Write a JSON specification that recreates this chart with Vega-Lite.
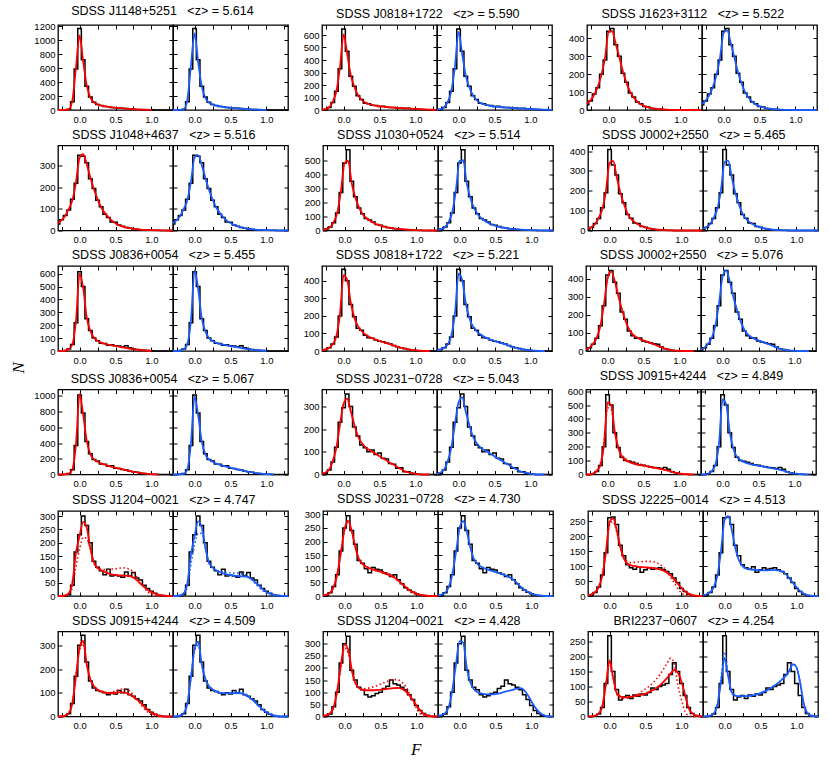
{
"$schema":"https://vega.github.io/schema/vega-lite/v6.json",
"background":"white",
"padding":{"left":10,"top":5,"right":5,"bottom":5},
"datasets":{
"g1":[{"F":-0.3,"N":0,"R":0,"B":0},{"F":-0.25,"N":0,"R":0,"B":0},{"F":-0.2,"N":0,"R":1,"B":1},{"F":-0.15,"N":10,"R":10,"B":10},{"F":-0.1,"N":120,"R":140,"B":150},{"F":-0.05,"N":590,"R":610,"B":640},{"F":0,"N":1170,"R":1070,"B":1100},{"F":0.05,"N":720,"R":700,"B":690},{"F":0.1,"N":340,"R":350,"B":340},{"F":0.15,"N":185,"R":180,"B":175},{"F":0.2,"N":112,"R":110,"B":108},{"F":0.25,"N":78,"R":80,"B":80},{"F":0.3,"N":66,"R":64,"B":64},{"F":0.35,"N":52,"R":54,"B":54},{"F":0.4,"N":48,"R":46,"B":46},{"F":0.45,"N":37,"R":39,"B":39},{"F":0.5,"N":34,"R":33,"B":33},{"F":0.55,"N":27,"R":28,"B":28},{"F":0.6,"N":24,"R":23,"B":23},{"F":0.65,"N":20,"R":19,"B":19},{"F":0.7,"N":15,"R":14,"B":14},{"F":0.75,"N":12,"R":11,"B":11},{"F":0.8,"N":8,"R":8,"B":8},{"F":0.85,"N":6,"R":6,"B":6},{"F":0.9,"N":5,"R":4,"B":4},{"F":0.95,"N":3,"R":3,"B":3},{"F":1,"N":2,"R":2,"B":2},{"F":1.05,"N":1},{"F":1.1,"N":0},{"F":1.15,"N":0},{"F":1.2,"N":0},{"F":1.25,"N":0},{"F":1.3,"N":0}],
"g2":[{"F":-0.3,"N":0,"R":3,"B":3},{"F":-0.25,"N":5,"R":8,"B":8},{"F":-0.2,"N":20,"R":22,"B":22},{"F":-0.15,"N":60,"R":66,"B":66},{"F":-0.1,"N":150,"R":150,"B":155},{"F":-0.05,"N":330,"R":340,"B":350},{"F":0,"N":648,"R":605,"B":625},{"F":0.05,"N":470,"R":450,"B":450},{"F":0.1,"N":270,"R":280,"B":275},{"F":0.15,"N":190,"R":185,"B":180},{"F":0.2,"N":115,"R":120,"B":118},{"F":0.25,"N":85,"R":82,"B":80},{"F":0.3,"N":55,"R":60,"B":58},{"F":0.35,"N":50,"R":48,"B":46},{"F":0.4,"N":38,"R":40,"B":38},{"F":0.45,"N":36,"R":34,"B":32},{"F":0.5,"N":28,"R":30,"B":28},{"F":0.55,"N":30,"R":27,"B":25},{"F":0.6,"N":22,"R":24,"B":22},{"F":0.65,"N":20,"R":21,"B":20},{"F":0.7,"N":20,"R":19,"B":18},{"F":0.75,"N":15,"R":17,"B":16},{"F":0.8,"N":17,"R":15,"B":14},{"F":0.85,"N":12,"R":14,"B":13},{"F":0.9,"N":14,"R":12,"B":11},{"F":0.95,"N":10,"R":11,"B":10},{"F":1,"N":8,"R":9,"B":8},{"F":1.05,"N":6,"R":7,"B":6},{"F":1.1,"N":4,"R":5,"B":5},{"F":1.15,"N":2,"R":4,"B":4},{"F":1.2,"N":1,"R":3,"B":3},{"F":1.25,"N":0,"R":2,"B":2},{"F":1.3,"N":0,"R":1,"B":1}],
"g3":[{"F":-0.3,"N":30,"R":35,"B":33},{"F":-0.25,"N":50,"R":55,"B":52},{"F":-0.2,"N":90,"R":85,"B":82},{"F":-0.15,"N":125,"R":130,"B":128},{"F":-0.1,"N":200,"R":195,"B":192},{"F":-0.05,"N":280,"R":290,"B":290},{"F":0,"N":440,"R":435,"B":430},{"F":0.05,"N":455,"R":440,"B":445},{"F":0.1,"N":365,"R":370,"B":375},{"F":0.15,"N":300,"R":295,"B":295},{"F":0.2,"N":205,"R":215,"B":212},{"F":0.25,"N":155,"R":150,"B":148},{"F":0.3,"N":95,"R":103,"B":100},{"F":0.35,"N":72,"R":70,"B":68},{"F":0.4,"N":45,"R":47,"B":46},{"F":0.45,"N":35,"R":32,"B":31},{"F":0.5,"N":20,"R":22,"B":21},{"F":0.55,"N":17,"R":15,"B":14},{"F":0.6,"N":8,"R":10,"B":10},{"F":0.65,"N":6,"R":7,"B":7},{"F":0.7,"N":4,"R":5,"B":4},{"F":0.75,"N":3,"R":3,"B":3},{"F":0.8,"N":1,"R":2,"B":2},{"F":0.85,"N":1,"R":1,"B":1},{"F":0.9,"N":0,"R":1,"B":1},{"F":0.95,"N":0,"R":0,"B":0},{"F":1,"N":0,"R":0,"B":0},{"F":1.05,"N":0,"R":0,"B":0},{"F":1.1,"N":0,"R":0,"B":0},{"F":1.15,"N":0,"R":0,"B":0},{"F":1.2,"N":0,"R":0,"B":0},{"F":1.25,"N":0,"R":0,"B":0},{"F":1.3,"N":0,"R":0,"B":0}],
"g4":[{"F":-0.3,"N":30,"R":34,"B":34},{"F":-0.25,"N":50,"R":48,"B":48},{"F":-0.2,"N":70,"R":68,"B":68},{"F":-0.15,"N":95,"R":100,"B":100},{"F":-0.1,"N":145,"R":140,"B":142},{"F":-0.05,"N":220,"R":225,"B":228},{"F":0,"N":350,"R":338,"B":340},{"F":0.05,"N":345,"R":355,"B":350},{"F":0.1,"N":315,"R":308,"B":305},{"F":0.15,"N":240,"R":246,"B":245},{"F":0.2,"N":195,"R":192,"B":190},{"F":0.25,"N":140,"R":146,"B":145},{"F":0.3,"N":110,"R":108,"B":108},{"F":0.35,"N":75,"R":82,"B":82},{"F":0.4,"N":60,"R":62,"B":62},{"F":0.45,"N":40,"R":46,"B":46},{"F":0.5,"N":38,"R":34,"B":35},{"F":0.55,"N":25,"R":25,"B":26},{"F":0.6,"N":20,"R":18,"B":19},{"F":0.65,"N":14,"R":14,"B":14},{"F":0.7,"N":10,"R":11,"B":11},{"F":0.75,"N":7,"R":8,"B":8},{"F":0.8,"N":6,"R":6,"B":6},{"F":0.85,"N":4,"R":4,"B":4},{"F":0.9,"N":3,"R":3,"B":3},{"F":0.95,"N":2,"R":2,"B":2},{"F":1,"N":1,"R":2,"B":2},{"F":1.05,"N":1,"R":1,"B":1},{"F":1.1,"N":1,"R":1,"B":1},{"F":1.15,"N":0,"R":1,"B":1},{"F":1.2,"N":0,"R":0,"B":0},{"F":1.25,"N":0,"R":0,"B":0},{"F":1.3,"N":0,"R":0,"B":0}],
"g5":[{"F":-0.3,"N":0,"R":5,"B":5},{"F":-0.25,"N":10,"R":12,"B":12},{"F":-0.2,"N":25,"R":24,"B":25},{"F":-0.15,"N":55,"R":60,"B":62},{"F":-0.1,"N":125,"R":130,"B":135},{"F":-0.05,"N":270,"R":282,"B":290},{"F":0,"N":480,"R":480,"B":495},{"F":0.05,"N":575,"R":495,"B":500},{"F":0.1,"N":350,"R":335,"B":335},{"F":0.15,"N":240,"R":235,"B":232},{"F":0.2,"N":160,"R":165,"B":163},{"F":0.25,"N":120,"R":118,"B":117},{"F":0.3,"N":85,"R":89,"B":88},{"F":0.35,"N":75,"R":71,"B":70},{"F":0.4,"N":60,"R":55,"B":54},{"F":0.45,"N":42,"R":43,"B":42},{"F":0.5,"N":38,"R":34,"B":33},{"F":0.55,"N":28,"R":27,"B":26},{"F":0.6,"N":22,"R":21,"B":20},{"F":0.65,"N":18,"R":17,"B":16},{"F":0.7,"N":12,"R":14,"B":13},{"F":0.75,"N":10,"R":11,"B":10},{"F":0.8,"N":8,"R":9,"B":8},{"F":0.85,"N":5,"R":7,"B":6},{"F":0.9,"N":4,"R":5,"B":5},{"F":0.95,"N":3,"R":3,"B":3},{"F":1,"N":2,"R":2,"B":2},{"F":1.05,"N":1,"R":1,"B":1},{"F":1.1,"N":0,"R":1,"B":1},{"F":1.15,"N":0,"R":0,"B":0},{"F":1.2,"N":0,"R":0,"B":0},{"F":1.25,"N":0,"R":0,"B":0},{"F":1.3,"N":0,"R":0,"B":0}],
"g6":[{"F":-0.3,"N":5,"R":8,"B":8},{"F":-0.25,"N":15,"R":18,"B":18},{"F":-0.2,"N":35,"R":33,"B":33},{"F":-0.15,"N":60,"R":65,"B":65},{"F":-0.1,"N":115,"R":108,"B":110},{"F":-0.05,"N":190,"R":200,"B":205},{"F":0,"N":408,"R":340,"B":345},{"F":0.05,"N":330,"R":350,"B":352},{"F":0.1,"N":280,"R":268,"B":268},{"F":0.15,"N":185,"R":192,"B":190},{"F":0.2,"N":140,"R":133,"B":132},{"F":0.25,"N":80,"R":85,"B":84},{"F":0.3,"N":62,"R":58,"B":58},{"F":0.35,"N":38,"R":42,"B":42},{"F":0.4,"N":35,"R":30,"B":30},{"F":0.45,"N":20,"R":22,"B":22},{"F":0.5,"N":16,"R":15,"B":15},{"F":0.55,"N":10,"R":11,"B":11},{"F":0.6,"N":8,"R":8,"B":8},{"F":0.65,"N":4,"R":5,"B":5},{"F":0.7,"N":3,"R":3,"B":3},{"F":0.75,"N":2,"R":2,"B":2},{"F":0.8,"N":1,"R":1,"B":1},{"F":0.85,"N":1,"R":1,"B":1},{"F":0.9,"N":0,"R":0,"B":0},{"F":0.95,"N":0,"R":0,"B":0},{"F":1,"N":0,"R":0,"B":0},{"F":1.05,"N":0,"R":0,"B":0},{"F":1.1,"N":0,"R":0,"B":0},{"F":1.15,"N":0,"R":0,"B":0},{"F":1.2,"N":0,"R":0,"B":0},{"F":1.25,"N":0,"R":0,"B":0},{"F":1.3,"N":0,"R":0,"B":0}],
"g7":[{"F":-0.3,"N":0,"R":0,"B":0},{"F":-0.25,"N":0,"R":0,"B":0},{"F":-0.2,"N":3,"R":2,"B":2},{"F":-0.15,"N":15,"R":13,"B":13},{"F":-0.1,"N":50,"R":52,"B":55},{"F":-0.05,"N":220,"R":233,"B":240},{"F":0,"N":615,"R":600,"B":625},{"F":0.05,"N":500,"R":490,"B":480},{"F":0.1,"N":250,"R":260,"B":255},{"F":0.15,"N":160,"R":155,"B":152},{"F":0.2,"N":100,"R":104,"B":102},{"F":0.25,"N":80,"R":78,"B":77},{"F":0.3,"N":60,"R":65,"B":64},{"F":0.35,"N":58,"R":57,"B":56},{"F":0.4,"N":45,"R":49,"B":49},{"F":0.45,"N":48,"R":44,"B":43},{"F":0.5,"N":40,"R":39,"B":38},{"F":0.55,"N":38,"R":34,"B":33},{"F":0.6,"N":32,"R":28,"B":28},{"F":0.65,"N":40,"R":23,"B":23},{"F":0.7,"N":25,"R":18,"B":18},{"F":0.75,"N":15,"R":14,"B":14},{"F":0.8,"N":12,"R":10,"B":10},{"F":0.85,"N":8,"R":7,"B":7},{"F":0.9,"N":5,"R":5,"B":5},{"F":0.95,"N":3,"R":2,"B":2},{"F":1,"N":1,"R":0,"B":0},{"F":1.05,"N":0},{"F":1.1,"N":0},{"F":1.15,"N":0},{"F":1.2,"N":0},{"F":1.25,"N":0},{"F":1.3,"N":0}],
"g8":[{"F":-0.3,"N":2,"R":4,"B":4},{"F":-0.25,"N":8,"R":9,"B":9},{"F":-0.2,"N":18,"R":19,"B":19},{"F":-0.15,"N":40,"R":38,"B":38},{"F":-0.1,"N":80,"R":85,"B":88},{"F":-0.05,"N":200,"R":210,"B":215},{"F":0,"N":465,"R":432,"B":440},{"F":0.05,"N":400,"R":405,"B":405},{"F":0.1,"N":265,"R":275,"B":272},{"F":0.15,"N":195,"R":190,"B":188},{"F":0.2,"N":130,"R":142,"B":140},{"F":0.25,"N":118,"R":114,"B":113},{"F":0.3,"N":90,"R":95,"B":95},{"F":0.35,"N":75,"R":82,"B":82},{"F":0.4,"N":72,"R":72,"B":72},{"F":0.45,"N":62,"R":65,"B":64},{"F":0.5,"N":55,"R":57,"B":57},{"F":0.55,"N":52,"R":51,"B":51},{"F":0.6,"N":45,"R":46,"B":45},{"F":0.65,"N":40,"R":38,"B":38},{"F":0.7,"N":32,"R":30,"B":30},{"F":0.75,"N":24,"R":25,"B":25},{"F":0.8,"N":18,"R":19,"B":19},{"F":0.85,"N":14,"R":13,"B":13},{"F":0.9,"N":8,"R":9,"B":9},{"F":0.95,"N":5,"R":6,"B":6},{"F":1,"N":3,"R":4,"B":4},{"F":1.05,"N":2,"R":2,"B":2},{"F":1.1,"N":1,"R":1,"B":1},{"F":1.15,"N":0,"R":0,"B":0},{"F":1.2,"N":0,"R":0,"B":0},{"F":1.25,"N":0},{"F":1.3,"N":0}],
"g9":[{"F":-0.3,"N":5,"R":9,"B":9},{"F":-0.25,"N":18,"R":20,"B":20},{"F":-0.2,"N":38,"R":40,"B":40},{"F":-0.15,"N":70,"R":74,"B":74},{"F":-0.1,"N":140,"R":138,"B":140},{"F":-0.05,"N":250,"R":258,"B":262},{"F":0,"N":420,"R":400,"B":410},{"F":0.05,"N":445,"R":440,"B":445},{"F":0.1,"N":380,"R":387,"B":385},{"F":0.15,"N":320,"R":304,"B":300},{"F":0.2,"N":215,"R":230,"B":228},{"F":0.25,"N":175,"R":166,"B":165},{"F":0.3,"N":110,"R":120,"B":120},{"F":0.35,"N":85,"R":92,"B":92},{"F":0.4,"N":70,"R":77,"B":77},{"F":0.45,"N":72,"R":66,"B":66},{"F":0.5,"N":55,"R":59,"B":59},{"F":0.55,"N":50,"R":52,"B":52},{"F":0.6,"N":45,"R":44,"B":44},{"F":0.65,"N":40,"R":37,"B":37},{"F":0.7,"N":38,"R":28,"B":28},{"F":0.75,"N":22,"R":20,"B":20},{"F":0.8,"N":12,"R":13,"B":13},{"F":0.85,"N":8,"R":7,"B":7},{"F":0.9,"N":4,"R":4,"B":4},{"F":0.95,"N":2,"R":2,"B":2},{"F":1,"N":1,"R":1,"B":1},{"F":1.05,"N":0,"R":0,"B":0},{"F":1.1,"N":0,"R":0,"B":0},{"F":1.15,"N":0,"R":0,"B":0},{"F":1.2,"N":0,"R":0,"B":0},{"F":1.25,"N":0},{"F":1.3,"N":0}],
"g10":[{"F":-0.3,"N":0,"R":0,"B":0},{"F":-0.25,"N":0,"R":0,"B":0},{"F":-0.2,"N":3,"R":2,"B":2},{"F":-0.15,"N":12,"R":9,"B":9},{"F":-0.1,"N":60,"R":64,"B":70},{"F":-0.05,"N":370,"R":385,"B":400},{"F":0,"N":1010,"R":1020,"B":990},{"F":0.05,"N":780,"R":760,"B":750},{"F":0.1,"N":420,"R":428,"B":420},{"F":0.15,"N":265,"R":257,"B":255},{"F":0.2,"N":190,"R":193,"B":192},{"F":0.25,"N":170,"R":163,"B":162},{"F":0.3,"N":135,"R":141,"B":140},{"F":0.35,"N":130,"R":124,"B":123},{"F":0.4,"N":105,"R":111,"B":110},{"F":0.45,"N":110,"R":98,"B":97},{"F":0.5,"N":80,"R":86,"B":86},{"F":0.55,"N":75,"R":77,"B":76},{"F":0.6,"N":62,"R":64,"B":64},{"F":0.65,"N":58,"R":56,"B":55},{"F":0.7,"N":40,"R":43,"B":43},{"F":0.75,"N":35,"R":34,"B":34},{"F":0.8,"N":28,"R":26,"B":26},{"F":0.85,"N":15,"R":17,"B":17},{"F":0.9,"N":12,"R":13,"B":13},{"F":0.95,"N":8,"R":9,"B":9},{"F":1,"N":4,"R":4,"B":4},{"F":1.05,"N":2,"R":2,"B":2},{"F":1.1,"N":0,"R":0,"B":0},{"F":1.15,"N":0},{"F":1.2,"N":0},{"F":1.25,"N":0},{"F":1.3,"N":0}],
"g11":[{"F":-0.3,"N":0,"R":3,"B":3},{"F":-0.25,"N":5,"R":9,"B":9},{"F":-0.2,"N":20,"R":22,"B":22},{"F":-0.15,"N":55,"R":59,"B":60},{"F":-0.1,"N":120,"R":118,"B":120},{"F":-0.05,"N":230,"R":220,"B":222},{"F":0,"N":295,"R":312,"B":318},{"F":0.05,"N":355,"R":335,"B":340},{"F":0.1,"N":300,"R":279,"B":278},{"F":0.15,"N":210,"R":220,"B":218},{"F":0.2,"N":170,"R":169,"B":168},{"F":0.25,"N":130,"R":140,"B":139},{"F":0.3,"N":118,"R":122,"B":121},{"F":0.35,"N":100,"R":110,"B":109},{"F":0.4,"N":108,"R":100,"B":99},{"F":0.45,"N":88,"R":91,"B":90},{"F":0.5,"N":95,"R":81,"B":80},{"F":0.55,"N":72,"R":71,"B":70},{"F":0.6,"N":68,"R":62,"B":61},{"F":0.65,"N":48,"R":51,"B":51},{"F":0.7,"N":45,"R":43,"B":42},{"F":0.75,"N":28,"R":32,"B":32},{"F":0.8,"N":30,"R":24,"B":24},{"F":0.85,"N":12,"R":15,"B":15},{"F":0.9,"N":12,"R":9,"B":9},{"F":0.95,"N":5,"R":6,"B":6},{"F":1,"N":3,"R":3,"B":3},{"F":1.05,"N":1,"R":1,"B":1},{"F":1.1,"N":0,"R":0,"B":0},{"F":1.15,"N":0,"R":0,"B":0},{"F":1.2,"N":0,"R":0,"B":0},{"F":1.25,"N":0},{"F":1.3,"N":0}],
"g12":[{"F":-0.3,"N":0,"R":0,"B":0,"r":0},{"F":-0.25,"N":0,"R":0,"B":0,"r":0},{"F":-0.2,"N":6,"R":7,"B":7,"r":10},{"F":-0.15,"N":22,"R":24,"B":24,"r":30},{"F":-0.1,"N":65,"R":68,"B":70,"r":80},{"F":-0.05,"N":200,"R":213,"B":220,"r":230},{"F":0,"N":575,"R":520,"B":540,"r":480},{"F":0.05,"N":500,"R":500,"B":505,"r":470},{"F":0.1,"N":300,"R":310,"B":305,"r":300},{"F":0.15,"N":195,"R":189,"B":186,"r":195},{"F":0.2,"N":125,"R":128,"B":127,"r":140},{"F":0.25,"N":100,"R":104,"B":103,"r":115},{"F":0.3,"N":95,"R":90,"B":89,"r":100},{"F":0.35,"N":88,"R":80,"B":80,"r":90},{"F":0.4,"N":80,"R":73,"B":73,"r":82},{"F":0.45,"N":70,"R":68,"B":68,"r":75},{"F":0.5,"N":66,"R":63,"B":63,"r":68},{"F":0.55,"N":60,"R":58,"B":58,"r":62},{"F":0.6,"N":55,"R":53,"B":53,"r":56},{"F":0.65,"N":50,"R":48,"B":48,"r":50},{"F":0.7,"N":48,"R":44,"B":44,"r":44},{"F":0.75,"N":44,"R":39,"B":39,"r":38},{"F":0.8,"N":50,"R":34,"B":34,"r":32},{"F":0.85,"N":38,"R":27,"B":27,"r":25},{"F":0.9,"N":20,"R":19,"B":19,"r":17},{"F":0.95,"N":12,"R":12,"B":12,"r":10},{"F":1,"N":6,"R":7,"B":7,"r":5},{"F":1.05,"N":4,"R":5,"B":5,"r":2},{"F":1.1,"N":2,"R":2,"B":2,"r":1},{"F":1.15,"N":0,"R":1,"B":1,"r":0},{"F":1.2,"N":0,"R":0,"B":0,"r":0},{"F":1.25,"N":0},{"F":1.3,"N":0}],
"g13":[{"F":-0.3,"N":0,"R":0,"B":0,"r":0,"b":0},{"F":-0.25,"N":0,"R":0,"B":0,"r":0,"b":0},{"F":-0.2,"N":0,"R":2,"B":2,"r":1,"b":1},{"F":-0.15,"N":5,"R":10,"B":10,"r":8,"b":8},{"F":-0.1,"N":40,"R":50,"B":48,"r":31,"b":35},{"F":-0.05,"N":165,"R":162,"B":155,"r":112,"b":120},{"F":0,"N":230,"R":225,"B":225,"r":175,"b":190},{"F":0.05,"N":300,"R":278,"B":280,"r":220,"b":235},{"F":0.1,"N":265,"R":256,"B":258,"r":215,"b":235},{"F":0.15,"N":200,"R":181,"B":183,"r":175,"b":180},{"F":0.2,"N":130,"R":125,"B":126,"r":125,"b":125},{"F":0.25,"N":108,"R":106,"B":107,"r":104,"b":104},{"F":0.3,"N":95,"R":97,"B":97,"r":100,"b":96},{"F":0.35,"N":80,"R":90,"B":90,"r":99,"b":92},{"F":0.4,"N":100,"R":85,"B":85,"r":100,"b":90},{"F":0.45,"N":75,"R":81,"B":81,"r":101,"b":88},{"F":0.5,"N":78,"R":79,"B":78,"r":102,"b":87},{"F":0.55,"N":75,"R":77,"B":76,"r":104,"b":86},{"F":0.6,"N":70,"R":77,"B":75,"r":106,"b":86},{"F":0.65,"N":90,"R":76,"B":74,"r":104,"b":84},{"F":0.7,"N":75,"R":75,"B":73,"r":100,"b":80},{"F":0.75,"N":88,"R":69,"B":70,"r":90,"b":72},{"F":0.8,"N":68,"R":59,"B":62,"r":69,"b":60},{"F":0.85,"N":60,"R":46,"B":50,"r":48,"b":45},{"F":0.9,"N":40,"R":34,"B":38,"r":31,"b":32},{"F":0.95,"N":28,"R":22,"B":25,"r":15,"b":20},{"F":1,"N":18,"R":15,"B":15,"r":6,"b":10},{"F":1.05,"N":10,"R":9,"B":9,"r":1,"b":4},{"F":1.1,"N":5,"R":5,"B":5,"r":0,"b":1},{"F":1.15,"N":2,"R":2,"B":2,"r":0,"b":0},{"F":1.2,"N":0,"R":1,"B":1,"r":0,"b":0},{"F":1.25,"N":0,"R":0,"B":0,"r":0,"b":0},{"F":1.3,"N":0,"R":0,"B":0,"r":0,"b":0}],
"g14":[{"F":-0.3,"N":0,"R":2,"B":2,"r":2},{"F":-0.25,"N":3,"R":5,"B":5,"r":5},{"F":-0.2,"N":12,"R":12,"B":12,"r":13},{"F":-0.15,"N":35,"R":33,"B":33,"r":35},{"F":-0.1,"N":78,"R":81,"B":80,"r":85},{"F":-0.05,"N":165,"R":160,"B":160,"r":165},{"F":0,"N":250,"R":245,"B":248,"r":245},{"F":0.05,"N":295,"R":276,"B":275,"r":270},{"F":0.1,"N":240,"R":239,"B":238,"r":235},{"F":0.15,"N":190,"R":179,"B":178,"r":178},{"F":0.2,"N":130,"R":136,"B":135,"r":134},{"F":0.25,"N":120,"R":118,"B":117,"r":114},{"F":0.3,"N":100,"R":108,"B":107,"r":105},{"F":0.35,"N":85,"R":102,"B":101,"r":100},{"F":0.4,"N":105,"R":97,"B":96,"r":97},{"F":0.45,"N":98,"R":92,"B":92,"r":94},{"F":0.5,"N":95,"R":89,"B":88,"r":92},{"F":0.55,"N":85,"R":84,"B":84,"r":88},{"F":0.6,"N":80,"R":79,"B":79,"r":84},{"F":0.65,"N":72,"R":73,"B":74,"r":78},{"F":0.7,"N":78,"R":66,"B":68,"r":70},{"F":0.75,"N":60,"R":56,"B":60,"r":58},{"F":0.8,"N":45,"R":45,"B":47,"r":44},{"F":0.85,"N":30,"R":33,"B":34,"r":30},{"F":0.9,"N":22,"R":23,"B":23,"r":19},{"F":0.95,"N":14,"R":15,"B":15,"r":11},{"F":1,"N":8,"R":9,"B":9,"r":6},{"F":1.05,"N":4,"R":5,"B":5,"r":3},{"F":1.1,"N":2,"R":2,"B":2,"r":1},{"F":1.15,"N":1,"R":1,"B":1,"r":0},{"F":1.2,"N":0,"R":0,"B":0,"r":0},{"F":1.25,"N":0,"R":0,"B":0,"r":0},{"F":1.3,"N":0,"R":0,"B":0,"r":0}],
"g15":[{"F":-0.3,"N":0,"R":2,"B":2,"r":2},{"F":-0.25,"N":3,"R":6,"B":6,"r":6},{"F":-0.2,"N":12,"R":13,"B":13,"r":14},{"F":-0.15,"N":30,"R":30,"B":30,"r":33},{"F":-0.1,"N":70,"R":69,"B":68,"r":72},{"F":-0.05,"N":145,"R":147,"B":150,"r":150},{"F":0,"N":262,"R":248,"B":255,"r":240},{"F":0.05,"N":265,"R":260,"B":268,"r":250},{"F":0.1,"N":240,"R":220,"B":222,"r":215},{"F":0.15,"N":170,"R":164,"B":160,"r":165},{"F":0.2,"N":135,"R":125,"B":120,"r":130},{"F":0.25,"N":105,"R":108,"B":100,"r":115},{"F":0.3,"N":95,"R":103,"B":92,"r":112},{"F":0.35,"N":90,"R":100,"B":89,"r":113},{"F":0.4,"N":98,"R":98,"B":88,"r":114},{"F":0.45,"N":80,"R":97,"B":87,"r":115},{"F":0.5,"N":88,"R":96,"B":86,"r":116},{"F":0.55,"N":95,"R":95,"B":86,"r":116},{"F":0.6,"N":90,"R":94,"B":86,"r":115},{"F":0.65,"N":92,"R":92,"B":87,"r":112},{"F":0.7,"N":95,"R":89,"B":87,"r":106},{"F":0.75,"N":88,"R":85,"B":86,"r":96},{"F":0.8,"N":82,"R":78,"B":82,"r":80},{"F":0.85,"N":75,"R":69,"B":74,"r":62},{"F":0.9,"N":60,"R":56,"B":60,"r":45},{"F":0.95,"N":45,"R":41,"B":45,"r":25},{"F":1,"N":25,"R":27,"B":30,"r":10},{"F":1.05,"N":15,"R":16,"B":17,"r":3},{"F":1.1,"N":6,"R":8,"B":8,"r":1},{"F":1.15,"N":2,"R":3,"B":3,"r":0},{"F":1.2,"N":0,"R":1,"B":1,"r":0},{"F":1.25,"N":0,"R":0,"B":0,"r":0},{"F":1.3,"N":0,"R":0,"B":0,"r":0}],
"g16":[{"F":-0.3,"N":0,"R":0,"B":0,"r":0,"b":0},{"F":-0.25,"N":0,"R":1,"B":1,"r":1,"b":1},{"F":-0.2,"N":3,"R":4,"B":4,"r":5,"b":5},{"F":-0.15,"N":12,"R":14,"B":14,"r":16,"b":15},{"F":-0.1,"N":55,"R":57,"B":55,"r":60,"b":58},{"F":-0.05,"N":170,"R":170,"B":165,"r":170,"b":168},{"F":0,"N":300,"R":290,"B":285,"r":280,"b":278},{"F":0.05,"N":342,"R":318,"B":315,"r":305,"b":300},{"F":0.1,"N":230,"R":219,"B":220,"r":218,"b":218},{"F":0.15,"N":150,"R":156,"B":158,"r":158,"b":158},{"F":0.2,"N":120,"R":127,"B":128,"r":128,"b":128},{"F":0.25,"N":110,"R":113,"B":114,"r":112,"b":113},{"F":0.3,"N":105,"R":106,"B":106,"r":104,"b":105},{"F":0.35,"N":100,"R":102,"B":101,"r":101,"b":100},{"F":0.4,"N":92,"R":99,"B":98,"r":101,"b":99},{"F":0.45,"N":100,"R":98,"B":97,"r":103,"b":99},{"F":0.5,"N":95,"R":99,"B":97,"r":107,"b":101},{"F":0.55,"N":110,"R":102,"B":98,"r":112,"b":104},{"F":0.6,"N":100,"R":102,"B":99,"r":116,"b":106},{"F":0.65,"N":115,"R":99,"B":97,"r":115,"b":104},{"F":0.7,"N":92,"R":92,"B":92,"r":106,"b":97},{"F":0.75,"N":85,"R":82,"B":83,"r":90,"b":86},{"F":0.8,"N":75,"R":71,"B":72,"r":72,"b":72},{"F":0.85,"N":65,"R":57,"B":58,"r":52,"b":57},{"F":0.9,"N":50,"R":42,"B":43,"r":33,"b":42},{"F":0.95,"N":30,"R":28,"B":29,"r":18,"b":28},{"F":1,"N":18,"R":17,"B":18,"r":8,"b":17},{"F":1.05,"N":10,"R":10,"B":10,"r":2,"b":9},{"F":1.1,"N":4,"R":4,"B":4,"r":0,"b":4},{"F":1.15,"N":1,"R":1,"B":1,"r":0,"b":1},{"F":1.2,"N":0,"R":0,"B":0,"r":0,"b":0},{"F":1.25,"N":0,"R":0,"B":0,"r":0,"b":0},{"F":1.3,"N":0,"R":0,"B":0,"r":0,"b":0}],
"g17":[{"F":-0.3,"N":0,"R":3,"B":3,"r":2},{"F":-0.25,"N":3,"R":6,"B":6,"r":5},{"F":-0.2,"N":10,"R":14,"B":14,"r":12},{"F":-0.15,"N":40,"R":41,"B":40,"r":38},{"F":-0.1,"N":100,"R":111,"B":110,"r":105},{"F":-0.05,"N":220,"R":214,"B":215,"r":205},{"F":0,"N":300,"R":297,"B":310,"r":282},{"F":0.05,"N":330,"R":276,"B":305,"r":262},{"F":0.1,"N":190,"R":193,"B":200,"r":187},{"F":0.15,"N":150,"R":138,"B":140,"r":140},{"F":0.2,"N":120,"R":117,"B":112,"r":118},{"F":0.25,"N":110,"R":110,"B":100,"r":114},{"F":0.3,"N":90,"R":108,"B":95,"r":115},{"F":0.35,"N":80,"R":108,"B":92,"r":118},{"F":0.4,"N":85,"R":108,"B":91,"r":122},{"F":0.45,"N":95,"R":109,"B":91,"r":127},{"F":0.5,"N":100,"R":110,"B":92,"r":133},{"F":0.55,"N":115,"R":112,"B":95,"r":139},{"F":0.6,"N":125,"R":114,"B":99,"r":145},{"F":0.65,"N":150,"R":116,"B":103,"r":150},{"F":0.7,"N":135,"R":117,"B":107,"r":152},{"F":0.75,"N":130,"R":118,"B":111,"r":150},{"F":0.8,"N":120,"R":114,"B":115,"r":140},{"F":0.85,"N":110,"R":104,"B":117,"r":125},{"F":0.9,"N":90,"R":88,"B":108,"r":97},{"F":0.95,"N":70,"R":68,"B":88,"r":65},{"F":1,"N":45,"R":46,"B":62,"r":35},{"F":1.05,"N":25,"R":26,"B":38,"r":12},{"F":1.1,"N":12,"R":11,"B":20,"r":3},{"F":1.15,"N":5,"R":4,"B":8,"r":0},{"F":1.2,"N":1,"R":1,"B":2,"r":0},{"F":1.25,"N":0,"R":0,"B":0,"r":0},{"F":1.3,"N":0,"R":0,"B":0,"r":0}],
"g18":[{"F":-0.3,"N":0,"R":0,"B":0,"r":0,"b":0},{"F":-0.25,"N":0,"R":1,"B":1,"r":1,"b":1},{"F":-0.2,"N":2,"R":3,"B":3,"r":3,"b":3},{"F":-0.15,"N":8,"R":10,"B":10,"r":10,"b":10},{"F":-0.1,"N":30,"R":35,"B":38,"r":35,"b":40},{"F":-0.05,"N":110,"R":107,"B":115,"r":110,"b":125},{"F":0,"N":270,"R":188,"B":195,"r":180,"b":215},{"F":0.05,"N":150,"R":130,"B":135,"r":125,"b":140},{"F":0.1,"N":90,"R":78,"B":80,"r":75,"b":80},{"F":0.15,"N":55,"R":67,"B":70,"r":62,"b":70},{"F":0.2,"N":65,"R":64,"B":68,"r":60,"b":68},{"F":0.25,"N":70,"R":64,"B":68,"r":62,"b":68},{"F":0.3,"N":60,"R":66,"B":68,"r":65,"b":68},{"F":0.35,"N":72,"R":68,"B":69,"r":70,"b":69},{"F":0.4,"N":68,"R":71,"B":71,"r":76,"b":71},{"F":0.45,"N":75,"R":73,"B":74,"r":84,"b":74},{"F":0.5,"N":72,"R":76,"B":78,"r":92,"b":78},{"F":0.55,"N":80,"R":82,"B":83,"r":101,"b":83},{"F":0.6,"N":95,"R":88,"B":89,"r":112,"b":89},{"F":0.65,"N":90,"R":95,"B":96,"r":125,"b":96},{"F":0.7,"N":100,"R":104,"B":104,"r":140,"b":104},{"F":0.75,"N":105,"R":116,"B":113,"r":158,"b":113},{"F":0.8,"N":110,"R":129,"B":124,"r":178,"b":124},{"F":0.85,"N":140,"R":144,"B":136,"r":195,"b":136},{"F":0.9,"N":180,"R":156,"B":152,"r":175,"b":152},{"F":0.95,"N":150,"R":146,"B":175,"r":105,"b":175},{"F":1,"N":110,"R":118,"B":165,"r":56,"b":165},{"F":1.05,"N":70,"R":73,"B":115,"r":17,"b":115},{"F":1.1,"N":30,"R":28,"B":45,"r":3,"b":45},{"F":1.15,"N":10,"R":11,"B":12,"r":0,"b":12},{"F":1.2,"N":3,"R":3,"B":3,"r":0,"b":3},{"F":1.25,"N":1,"R":1,"B":1,"r":0,"b":1},{"F":1.3,"N":0,"R":0,"B":0,"r":0,"b":0}]
},
"title":{"text":"F","orient":"bottom","anchor":"middle","font":"Liberation Serif","fontStyle":"italic","fontSize":17,"fontWeight":"normal","offset":11},
"vconcat":[{
"title":{"text":"N","orient":"left","anchor":"middle","font":"Liberation Serif","fontStyle":"italic","fontSize":17,"fontWeight":"normal","offset":5},
"spacing":3.5,
"vconcat":[
{"spacing":7,"hconcat":[
{"data":{"name":"g1"},"title":"SDSS J1148+5251\u00a0\u00a0\u00a0<z> = 5.614","spacing":0,"bounds":"flush","hconcat":[
{"width":115,"height":85,"resolve":{"axis":{"x":"independent","y":"independent"}},"layer":[
{"mark":{"type":"line","interpolate":"step","color":"black","strokeWidth":1.5},"encoding":{"x":{"field":"F","type":"quantitative","title":null,"scale":{"domain":[-0.3,1.3],"nice":false,"zero":false},"axis":{"values":[-0.25,0,0.25,0.5,0.75,1,1.25],"labelExpr":"datum.value==0||datum.value==0.5||datum.value==1?format(datum.value,'.1f'):''","labelOverlap":false}},"y":{"field":"N","type":"quantitative","title":null,"scale":{"domain":[0,1220],"nice":false},"axis":{"values":[0,200,400,600,800,1000,1200],"format":"d","labelOverlap":false}}}},
{"mark":{"type":"line","color":"#ff0000"},"encoding":{"x":{"field":"F","type":"quantitative","title":null,"axis":{"orient":"top","labels":false,"values":[-0.25,0,0.25,0.5,0.75,1,1.25]}},"y":{"field":"R","type":"quantitative","title":null,"axis":{"orient":"right","labels":false,"values":[0,200,400,600,800,1000,1200]}}}}]},
{"width":115,"height":85,"resolve":{"axis":{"x":"independent","y":"independent"}},"layer":[
{"mark":{"type":"line","interpolate":"step","color":"black","strokeWidth":1.5},"encoding":{"x":{"field":"F","type":"quantitative","title":null,"scale":{"domain":[-0.3,1.3],"nice":false,"zero":false},"axis":{"values":[-0.25,0,0.25,0.5,0.75,1,1.25],"labelExpr":"datum.value==0||datum.value==0.5||datum.value==1?format(datum.value,'.1f'):''","labelOverlap":false}},"y":{"field":"N","type":"quantitative","title":null,"scale":{"domain":[0,1220],"nice":false},"axis":{"values":[0,200,400,600,800,1000,1200],"labels":false,"minExtent":0,"maxExtent":0}}}},
{"mark":{"type":"line","color":"#1a5cff"},"encoding":{"x":{"field":"F","type":"quantitative","title":null,"axis":{"orient":"top","labels":false,"values":[-0.25,0,0.25,0.5,0.75,1,1.25]}},"y":{"field":"B","type":"quantitative","title":null,"axis":{"orient":"right","labels":false,"values":[0,200,400,600,800,1000,1200]}}}}]}
]},
{"data":{"name":"g2"},"title":"SDSS J0818+1722\u00a0\u00a0\u00a0<z> = 5.590","spacing":0,"bounds":"flush","hconcat":[
{"width":115,"height":85,"resolve":{"axis":{"x":"independent","y":"independent"}},"layer":[
{"mark":{"type":"line","interpolate":"step","color":"black","strokeWidth":1.5},"encoding":{"x":{"field":"F","type":"quantitative","title":null,"scale":{"domain":[-0.3,1.3],"nice":false,"zero":false},"axis":{"values":[-0.25,0,0.25,0.5,0.75,1,1.25],"labelExpr":"datum.value==0||datum.value==0.5||datum.value==1?format(datum.value,'.1f'):''","labelOverlap":false}},"y":{"field":"N","type":"quantitative","title":null,"scale":{"domain":[0,680],"nice":false},"axis":{"values":[0,100,200,300,400,500,600],"format":"d","labelOverlap":false}}}},
{"mark":{"type":"line","color":"#ff0000"},"encoding":{"x":{"field":"F","type":"quantitative","title":null,"axis":{"orient":"top","labels":false,"values":[-0.25,0,0.25,0.5,0.75,1,1.25]}},"y":{"field":"R","type":"quantitative","title":null,"axis":{"orient":"right","labels":false,"values":[0,100,200,300,400,500,600]}}}}]},
{"width":115,"height":85,"resolve":{"axis":{"x":"independent","y":"independent"}},"layer":[
{"mark":{"type":"line","interpolate":"step","color":"black","strokeWidth":1.5},"encoding":{"x":{"field":"F","type":"quantitative","title":null,"scale":{"domain":[-0.3,1.3],"nice":false,"zero":false},"axis":{"values":[-0.25,0,0.25,0.5,0.75,1,1.25],"labelExpr":"datum.value==0||datum.value==0.5||datum.value==1?format(datum.value,'.1f'):''","labelOverlap":false}},"y":{"field":"N","type":"quantitative","title":null,"scale":{"domain":[0,680],"nice":false},"axis":{"values":[0,100,200,300,400,500,600],"labels":false,"minExtent":0,"maxExtent":0}}}},
{"mark":{"type":"line","color":"#1a5cff"},"encoding":{"x":{"field":"F","type":"quantitative","title":null,"axis":{"orient":"top","labels":false,"values":[-0.25,0,0.25,0.5,0.75,1,1.25]}},"y":{"field":"B","type":"quantitative","title":null,"axis":{"orient":"right","labels":false,"values":[0,100,200,300,400,500,600]}}}}]}
]},
{"data":{"name":"g3"},"title":"SDSS J1623+3112\u00a0\u00a0\u00a0<z> = 5.522","spacing":0,"bounds":"flush","hconcat":[
{"width":115,"height":85,"resolve":{"axis":{"x":"independent","y":"independent"}},"layer":[
{"mark":{"type":"line","interpolate":"step","color":"black","strokeWidth":1.5},"encoding":{"x":{"field":"F","type":"quantitative","title":null,"scale":{"domain":[-0.3,1.3],"nice":false,"zero":false},"axis":{"values":[-0.25,0,0.25,0.5,0.75,1,1.25],"labelExpr":"datum.value==0||datum.value==0.5||datum.value==1?format(datum.value,'.1f'):''","labelOverlap":false}},"y":{"field":"N","type":"quantitative","title":null,"scale":{"domain":[0,475],"nice":false},"axis":{"values":[0,100,200,300,400],"format":"d","labelOverlap":false}}}},
{"mark":{"type":"line","color":"#ff0000"},"encoding":{"x":{"field":"F","type":"quantitative","title":null,"axis":{"orient":"top","labels":false,"values":[-0.25,0,0.25,0.5,0.75,1,1.25]}},"y":{"field":"R","type":"quantitative","title":null,"axis":{"orient":"right","labels":false,"values":[0,100,200,300,400]}}}}]},
{"width":115,"height":85,"resolve":{"axis":{"x":"independent","y":"independent"}},"layer":[
{"mark":{"type":"line","interpolate":"step","color":"black","strokeWidth":1.5},"encoding":{"x":{"field":"F","type":"quantitative","title":null,"scale":{"domain":[-0.3,1.3],"nice":false,"zero":false},"axis":{"values":[-0.25,0,0.25,0.5,0.75,1,1.25],"labelExpr":"datum.value==0||datum.value==0.5||datum.value==1?format(datum.value,'.1f'):''","labelOverlap":false}},"y":{"field":"N","type":"quantitative","title":null,"scale":{"domain":[0,475],"nice":false},"axis":{"values":[0,100,200,300,400],"labels":false,"minExtent":0,"maxExtent":0}}}},
{"mark":{"type":"line","color":"#1a5cff"},"encoding":{"x":{"field":"F","type":"quantitative","title":null,"axis":{"orient":"top","labels":false,"values":[-0.25,0,0.25,0.5,0.75,1,1.25]}},"y":{"field":"B","type":"quantitative","title":null,"axis":{"orient":"right","labels":false,"values":[0,100,200,300,400]}}}}]}
]}
]},
{"spacing":7,"hconcat":[
{"data":{"name":"g4"},"title":"SDSS J1048+4637\u00a0\u00a0\u00a0<z> = 5.516","spacing":0,"bounds":"flush","hconcat":[
{"width":115,"height":85,"resolve":{"axis":{"x":"independent","y":"independent"}},"layer":[
{"mark":{"type":"line","interpolate":"step","color":"black","strokeWidth":1.5},"encoding":{"x":{"field":"F","type":"quantitative","title":null,"scale":{"domain":[-0.3,1.3],"nice":false,"zero":false},"axis":{"values":[-0.25,0,0.25,0.5,0.75,1,1.25],"labelExpr":"datum.value==0||datum.value==0.5||datum.value==1?format(datum.value,'.1f'):''","labelOverlap":false}},"y":{"field":"N","type":"quantitative","title":null,"scale":{"domain":[0,395],"nice":false},"axis":{"values":[0,100,200,300],"format":"d","labelOverlap":false}}}},
{"mark":{"type":"line","color":"#ff0000"},"encoding":{"x":{"field":"F","type":"quantitative","title":null,"axis":{"orient":"top","labels":false,"values":[-0.25,0,0.25,0.5,0.75,1,1.25]}},"y":{"field":"R","type":"quantitative","title":null,"axis":{"orient":"right","labels":false,"values":[0,100,200,300]}}}}]},
{"width":115,"height":85,"resolve":{"axis":{"x":"independent","y":"independent"}},"layer":[
{"mark":{"type":"line","interpolate":"step","color":"black","strokeWidth":1.5},"encoding":{"x":{"field":"F","type":"quantitative","title":null,"scale":{"domain":[-0.3,1.3],"nice":false,"zero":false},"axis":{"values":[-0.25,0,0.25,0.5,0.75,1,1.25],"labelExpr":"datum.value==0||datum.value==0.5||datum.value==1?format(datum.value,'.1f'):''","labelOverlap":false}},"y":{"field":"N","type":"quantitative","title":null,"scale":{"domain":[0,395],"nice":false},"axis":{"values":[0,100,200,300],"labels":false,"minExtent":0,"maxExtent":0}}}},
{"mark":{"type":"line","color":"#1a5cff"},"encoding":{"x":{"field":"F","type":"quantitative","title":null,"axis":{"orient":"top","labels":false,"values":[-0.25,0,0.25,0.5,0.75,1,1.25]}},"y":{"field":"B","type":"quantitative","title":null,"axis":{"orient":"right","labels":false,"values":[0,100,200,300]}}}}]}
]},
{"data":{"name":"g5"},"title":"SDSS J1030+0524\u00a0\u00a0\u00a0<z> = 5.514","spacing":0,"bounds":"flush","hconcat":[
{"width":115,"height":85,"resolve":{"axis":{"x":"independent","y":"independent"}},"layer":[
{"mark":{"type":"line","interpolate":"step","color":"black","strokeWidth":1.5},"encoding":{"x":{"field":"F","type":"quantitative","title":null,"scale":{"domain":[-0.3,1.3],"nice":false,"zero":false},"axis":{"values":[-0.25,0,0.25,0.5,0.75,1,1.25],"labelExpr":"datum.value==0||datum.value==0.5||datum.value==1?format(datum.value,'.1f'):''","labelOverlap":false}},"y":{"field":"N","type":"quantitative","title":null,"scale":{"domain":[0,605],"nice":false},"axis":{"values":[0,100,200,300,400,500],"format":"d","labelOverlap":false}}}},
{"mark":{"type":"line","color":"#ff0000"},"encoding":{"x":{"field":"F","type":"quantitative","title":null,"axis":{"orient":"top","labels":false,"values":[-0.25,0,0.25,0.5,0.75,1,1.25]}},"y":{"field":"R","type":"quantitative","title":null,"axis":{"orient":"right","labels":false,"values":[0,100,200,300,400,500]}}}}]},
{"width":115,"height":85,"resolve":{"axis":{"x":"independent","y":"independent"}},"layer":[
{"mark":{"type":"line","interpolate":"step","color":"black","strokeWidth":1.5},"encoding":{"x":{"field":"F","type":"quantitative","title":null,"scale":{"domain":[-0.3,1.3],"nice":false,"zero":false},"axis":{"values":[-0.25,0,0.25,0.5,0.75,1,1.25],"labelExpr":"datum.value==0||datum.value==0.5||datum.value==1?format(datum.value,'.1f'):''","labelOverlap":false}},"y":{"field":"N","type":"quantitative","title":null,"scale":{"domain":[0,605],"nice":false},"axis":{"values":[0,100,200,300,400,500],"labels":false,"minExtent":0,"maxExtent":0}}}},
{"mark":{"type":"line","color":"#1a5cff"},"encoding":{"x":{"field":"F","type":"quantitative","title":null,"axis":{"orient":"top","labels":false,"values":[-0.25,0,0.25,0.5,0.75,1,1.25]}},"y":{"field":"B","type":"quantitative","title":null,"axis":{"orient":"right","labels":false,"values":[0,100,200,300,400,500]}}}}]}
]},
{"data":{"name":"g6"},"title":"SDSS J0002+2550\u00a0\u00a0\u00a0<z> = 5.465","spacing":0,"bounds":"flush","hconcat":[
{"width":115,"height":85,"resolve":{"axis":{"x":"independent","y":"independent"}},"layer":[
{"mark":{"type":"line","interpolate":"step","color":"black","strokeWidth":1.5},"encoding":{"x":{"field":"F","type":"quantitative","title":null,"scale":{"domain":[-0.3,1.3],"nice":false,"zero":false},"axis":{"values":[-0.25,0,0.25,0.5,0.75,1,1.25],"labelExpr":"datum.value==0||datum.value==0.5||datum.value==1?format(datum.value,'.1f'):''","labelOverlap":false}},"y":{"field":"N","type":"quantitative","title":null,"scale":{"domain":[0,428],"nice":false},"axis":{"values":[0,100,200,300,400],"format":"d","labelOverlap":false}}}},
{"mark":{"type":"line","color":"#ff0000"},"encoding":{"x":{"field":"F","type":"quantitative","title":null,"axis":{"orient":"top","labels":false,"values":[-0.25,0,0.25,0.5,0.75,1,1.25]}},"y":{"field":"R","type":"quantitative","title":null,"axis":{"orient":"right","labels":false,"values":[0,100,200,300,400]}}}}]},
{"width":115,"height":85,"resolve":{"axis":{"x":"independent","y":"independent"}},"layer":[
{"mark":{"type":"line","interpolate":"step","color":"black","strokeWidth":1.5},"encoding":{"x":{"field":"F","type":"quantitative","title":null,"scale":{"domain":[-0.3,1.3],"nice":false,"zero":false},"axis":{"values":[-0.25,0,0.25,0.5,0.75,1,1.25],"labelExpr":"datum.value==0||datum.value==0.5||datum.value==1?format(datum.value,'.1f'):''","labelOverlap":false}},"y":{"field":"N","type":"quantitative","title":null,"scale":{"domain":[0,428],"nice":false},"axis":{"values":[0,100,200,300,400],"labels":false,"minExtent":0,"maxExtent":0}}}},
{"mark":{"type":"line","color":"#1a5cff"},"encoding":{"x":{"field":"F","type":"quantitative","title":null,"axis":{"orient":"top","labels":false,"values":[-0.25,0,0.25,0.5,0.75,1,1.25]}},"y":{"field":"B","type":"quantitative","title":null,"axis":{"orient":"right","labels":false,"values":[0,100,200,300,400]}}}}]}
]}
]},
{"spacing":7,"hconcat":[
{"data":{"name":"g7"},"title":"SDSS J0836+0054\u00a0\u00a0\u00a0<z> = 5.455","spacing":0,"bounds":"flush","hconcat":[
{"width":115,"height":85,"resolve":{"axis":{"x":"independent","y":"independent"}},"layer":[
{"mark":{"type":"line","interpolate":"step","color":"black","strokeWidth":1.5},"encoding":{"x":{"field":"F","type":"quantitative","title":null,"scale":{"domain":[-0.3,1.3],"nice":false,"zero":false},"axis":{"values":[-0.25,0,0.25,0.5,0.75,1,1.25],"labelExpr":"datum.value==0||datum.value==0.5||datum.value==1?format(datum.value,'.1f'):''","labelOverlap":false}},"y":{"field":"N","type":"quantitative","title":null,"scale":{"domain":[0,660],"nice":false},"axis":{"values":[0,100,200,300,400,500,600],"format":"d","labelOverlap":false}}}},
{"mark":{"type":"line","color":"#ff0000"},"encoding":{"x":{"field":"F","type":"quantitative","title":null,"axis":{"orient":"top","labels":false,"values":[-0.25,0,0.25,0.5,0.75,1,1.25]}},"y":{"field":"R","type":"quantitative","title":null,"axis":{"orient":"right","labels":false,"values":[0,100,200,300,400,500,600]}}}}]},
{"width":115,"height":85,"resolve":{"axis":{"x":"independent","y":"independent"}},"layer":[
{"mark":{"type":"line","interpolate":"step","color":"black","strokeWidth":1.5},"encoding":{"x":{"field":"F","type":"quantitative","title":null,"scale":{"domain":[-0.3,1.3],"nice":false,"zero":false},"axis":{"values":[-0.25,0,0.25,0.5,0.75,1,1.25],"labelExpr":"datum.value==0||datum.value==0.5||datum.value==1?format(datum.value,'.1f'):''","labelOverlap":false}},"y":{"field":"N","type":"quantitative","title":null,"scale":{"domain":[0,660],"nice":false},"axis":{"values":[0,100,200,300,400,500,600],"labels":false,"minExtent":0,"maxExtent":0}}}},
{"mark":{"type":"line","color":"#1a5cff"},"encoding":{"x":{"field":"F","type":"quantitative","title":null,"axis":{"orient":"top","labels":false,"values":[-0.25,0,0.25,0.5,0.75,1,1.25]}},"y":{"field":"B","type":"quantitative","title":null,"axis":{"orient":"right","labels":false,"values":[0,100,200,300,400,500,600]}}}}]}
]},
{"data":{"name":"g8"},"title":"SDSS J0818+1722\u00a0\u00a0\u00a0<z> = 5.221","spacing":0,"bounds":"flush","hconcat":[
{"width":115,"height":85,"resolve":{"axis":{"x":"independent","y":"independent"}},"layer":[
{"mark":{"type":"line","interpolate":"step","color":"black","strokeWidth":1.5},"encoding":{"x":{"field":"F","type":"quantitative","title":null,"scale":{"domain":[-0.3,1.3],"nice":false,"zero":false},"axis":{"values":[-0.25,0,0.25,0.5,0.75,1,1.25],"labelExpr":"datum.value==0||datum.value==0.5||datum.value==1?format(datum.value,'.1f'):''","labelOverlap":false}},"y":{"field":"N","type":"quantitative","title":null,"scale":{"domain":[0,484],"nice":false},"axis":{"values":[0,100,200,300,400],"format":"d","labelOverlap":false}}}},
{"mark":{"type":"line","color":"#ff0000"},"encoding":{"x":{"field":"F","type":"quantitative","title":null,"axis":{"orient":"top","labels":false,"values":[-0.25,0,0.25,0.5,0.75,1,1.25]}},"y":{"field":"R","type":"quantitative","title":null,"axis":{"orient":"right","labels":false,"values":[0,100,200,300,400]}}}}]},
{"width":115,"height":85,"resolve":{"axis":{"x":"independent","y":"independent"}},"layer":[
{"mark":{"type":"line","interpolate":"step","color":"black","strokeWidth":1.5},"encoding":{"x":{"field":"F","type":"quantitative","title":null,"scale":{"domain":[-0.3,1.3],"nice":false,"zero":false},"axis":{"values":[-0.25,0,0.25,0.5,0.75,1,1.25],"labelExpr":"datum.value==0||datum.value==0.5||datum.value==1?format(datum.value,'.1f'):''","labelOverlap":false}},"y":{"field":"N","type":"quantitative","title":null,"scale":{"domain":[0,484],"nice":false},"axis":{"values":[0,100,200,300,400],"labels":false,"minExtent":0,"maxExtent":0}}}},
{"mark":{"type":"line","color":"#1a5cff"},"encoding":{"x":{"field":"F","type":"quantitative","title":null,"axis":{"orient":"top","labels":false,"values":[-0.25,0,0.25,0.5,0.75,1,1.25]}},"y":{"field":"B","type":"quantitative","title":null,"axis":{"orient":"right","labels":false,"values":[0,100,200,300,400]}}}}]}
]},
{"data":{"name":"g9"},"title":"SDSS J0002+2550\u00a0\u00a0\u00a0<z> = 5.076","spacing":0,"bounds":"flush","hconcat":[
{"width":115,"height":85,"resolve":{"axis":{"x":"independent","y":"independent"}},"layer":[
{"mark":{"type":"line","interpolate":"step","color":"black","strokeWidth":1.5},"encoding":{"x":{"field":"F","type":"quantitative","title":null,"scale":{"domain":[-0.3,1.3],"nice":false,"zero":false},"axis":{"values":[-0.25,0,0.25,0.5,0.75,1,1.25],"labelExpr":"datum.value==0||datum.value==0.5||datum.value==1?format(datum.value,'.1f'):''","labelOverlap":false}},"y":{"field":"N","type":"quantitative","title":null,"scale":{"domain":[0,470],"nice":false},"axis":{"values":[0,100,200,300,400],"format":"d","labelOverlap":false}}}},
{"mark":{"type":"line","color":"#ff0000"},"encoding":{"x":{"field":"F","type":"quantitative","title":null,"axis":{"orient":"top","labels":false,"values":[-0.25,0,0.25,0.5,0.75,1,1.25]}},"y":{"field":"R","type":"quantitative","title":null,"axis":{"orient":"right","labels":false,"values":[0,100,200,300,400]}}}}]},
{"width":115,"height":85,"resolve":{"axis":{"x":"independent","y":"independent"}},"layer":[
{"mark":{"type":"line","interpolate":"step","color":"black","strokeWidth":1.5},"encoding":{"x":{"field":"F","type":"quantitative","title":null,"scale":{"domain":[-0.3,1.3],"nice":false,"zero":false},"axis":{"values":[-0.25,0,0.25,0.5,0.75,1,1.25],"labelExpr":"datum.value==0||datum.value==0.5||datum.value==1?format(datum.value,'.1f'):''","labelOverlap":false}},"y":{"field":"N","type":"quantitative","title":null,"scale":{"domain":[0,470],"nice":false},"axis":{"values":[0,100,200,300,400],"labels":false,"minExtent":0,"maxExtent":0}}}},
{"mark":{"type":"line","color":"#1a5cff"},"encoding":{"x":{"field":"F","type":"quantitative","title":null,"axis":{"orient":"top","labels":false,"values":[-0.25,0,0.25,0.5,0.75,1,1.25]}},"y":{"field":"B","type":"quantitative","title":null,"axis":{"orient":"right","labels":false,"values":[0,100,200,300,400]}}}}]}
]}
]},
{"spacing":7,"hconcat":[
{"data":{"name":"g10"},"title":"SDSS J0836+0054\u00a0\u00a0\u00a0<z> = 5.067","spacing":0,"bounds":"flush","hconcat":[
{"width":115,"height":85,"resolve":{"axis":{"x":"independent","y":"independent"}},"layer":[
{"mark":{"type":"line","interpolate":"step","color":"black","strokeWidth":1.5},"encoding":{"x":{"field":"F","type":"quantitative","title":null,"scale":{"domain":[-0.3,1.3],"nice":false,"zero":false},"axis":{"values":[-0.25,0,0.25,0.5,0.75,1,1.25],"labelExpr":"datum.value==0||datum.value==0.5||datum.value==1?format(datum.value,'.1f'):''","labelOverlap":false}},"y":{"field":"N","type":"quantitative","title":null,"scale":{"domain":[0,1080],"nice":false},"axis":{"values":[0,200,400,600,800,1000],"format":"d","labelOverlap":false}}}},
{"mark":{"type":"line","color":"#ff0000"},"encoding":{"x":{"field":"F","type":"quantitative","title":null,"axis":{"orient":"top","labels":false,"values":[-0.25,0,0.25,0.5,0.75,1,1.25]}},"y":{"field":"R","type":"quantitative","title":null,"axis":{"orient":"right","labels":false,"values":[0,200,400,600,800,1000]}}}}]},
{"width":115,"height":85,"resolve":{"axis":{"x":"independent","y":"independent"}},"layer":[
{"mark":{"type":"line","interpolate":"step","color":"black","strokeWidth":1.5},"encoding":{"x":{"field":"F","type":"quantitative","title":null,"scale":{"domain":[-0.3,1.3],"nice":false,"zero":false},"axis":{"values":[-0.25,0,0.25,0.5,0.75,1,1.25],"labelExpr":"datum.value==0||datum.value==0.5||datum.value==1?format(datum.value,'.1f'):''","labelOverlap":false}},"y":{"field":"N","type":"quantitative","title":null,"scale":{"domain":[0,1080],"nice":false},"axis":{"values":[0,200,400,600,800,1000],"labels":false,"minExtent":0,"maxExtent":0}}}},
{"mark":{"type":"line","color":"#1a5cff"},"encoding":{"x":{"field":"F","type":"quantitative","title":null,"axis":{"orient":"top","labels":false,"values":[-0.25,0,0.25,0.5,0.75,1,1.25]}},"y":{"field":"B","type":"quantitative","title":null,"axis":{"orient":"right","labels":false,"values":[0,200,400,600,800,1000]}}}}]}
]},
{"data":{"name":"g11"},"title":"SDSS J0231−0728\u00a0\u00a0\u00a0<z> = 5.043","spacing":0,"bounds":"flush","hconcat":[
{"width":115,"height":85,"resolve":{"axis":{"x":"independent","y":"independent"}},"layer":[
{"mark":{"type":"line","interpolate":"step","color":"black","strokeWidth":1.5},"encoding":{"x":{"field":"F","type":"quantitative","title":null,"scale":{"domain":[-0.3,1.3],"nice":false,"zero":false},"axis":{"values":[-0.25,0,0.25,0.5,0.75,1,1.25],"labelExpr":"datum.value==0||datum.value==0.5||datum.value==1?format(datum.value,'.1f'):''","labelOverlap":false}},"y":{"field":"N","type":"quantitative","title":null,"scale":{"domain":[0,375],"nice":false},"axis":{"values":[0,100,200,300],"format":"d","labelOverlap":false}}}},
{"mark":{"type":"line","color":"#ff0000"},"encoding":{"x":{"field":"F","type":"quantitative","title":null,"axis":{"orient":"top","labels":false,"values":[-0.25,0,0.25,0.5,0.75,1,1.25]}},"y":{"field":"R","type":"quantitative","title":null,"axis":{"orient":"right","labels":false,"values":[0,100,200,300]}}}}]},
{"width":115,"height":85,"resolve":{"axis":{"x":"independent","y":"independent"}},"layer":[
{"mark":{"type":"line","interpolate":"step","color":"black","strokeWidth":1.5},"encoding":{"x":{"field":"F","type":"quantitative","title":null,"scale":{"domain":[-0.3,1.3],"nice":false,"zero":false},"axis":{"values":[-0.25,0,0.25,0.5,0.75,1,1.25],"labelExpr":"datum.value==0||datum.value==0.5||datum.value==1?format(datum.value,'.1f'):''","labelOverlap":false}},"y":{"field":"N","type":"quantitative","title":null,"scale":{"domain":[0,375],"nice":false},"axis":{"values":[0,100,200,300],"labels":false,"minExtent":0,"maxExtent":0}}}},
{"mark":{"type":"line","color":"#1a5cff"},"encoding":{"x":{"field":"F","type":"quantitative","title":null,"axis":{"orient":"top","labels":false,"values":[-0.25,0,0.25,0.5,0.75,1,1.25]}},"y":{"field":"B","type":"quantitative","title":null,"axis":{"orient":"right","labels":false,"values":[0,100,200,300]}}}}]}
]},
{"data":{"name":"g12"},"title":"SDSS J0915+4244\u00a0\u00a0\u00a0<z> = 4.849","spacing":0,"bounds":"flush","hconcat":[
{"width":115,"height":85,"resolve":{"axis":{"x":"independent","y":"independent"}},"layer":[
{"mark":{"type":"line","interpolate":"step","color":"black","strokeWidth":1.5},"encoding":{"x":{"field":"F","type":"quantitative","title":null,"scale":{"domain":[-0.3,1.3],"nice":false,"zero":false},"axis":{"values":[-0.25,0,0.25,0.5,0.75,1,1.25],"labelExpr":"datum.value==0||datum.value==0.5||datum.value==1?format(datum.value,'.1f'):''","labelOverlap":false}},"y":{"field":"N","type":"quantitative","title":null,"scale":{"domain":[0,612],"nice":false},"axis":{"values":[0,100,200,300,400,500,600],"format":"d","labelOverlap":false}}}},
{"mark":{"type":"line","color":"#ff0000","strokeWidth":1.6,"strokeDash":[1.5,2.5]},"encoding":{"x":{"field":"F","type":"quantitative","axis":null},"y":{"field":"r","type":"quantitative","axis":null}}},
{"mark":{"type":"line","color":"#ff0000"},"encoding":{"x":{"field":"F","type":"quantitative","title":null,"axis":{"orient":"top","labels":false,"values":[-0.25,0,0.25,0.5,0.75,1,1.25]}},"y":{"field":"R","type":"quantitative","title":null,"axis":{"orient":"right","labels":false,"values":[0,100,200,300,400,500,600]}}}}]},
{"width":115,"height":85,"resolve":{"axis":{"x":"independent","y":"independent"}},"layer":[
{"mark":{"type":"line","interpolate":"step","color":"black","strokeWidth":1.5},"encoding":{"x":{"field":"F","type":"quantitative","title":null,"scale":{"domain":[-0.3,1.3],"nice":false,"zero":false},"axis":{"values":[-0.25,0,0.25,0.5,0.75,1,1.25],"labelExpr":"datum.value==0||datum.value==0.5||datum.value==1?format(datum.value,'.1f'):''","labelOverlap":false}},"y":{"field":"N","type":"quantitative","title":null,"scale":{"domain":[0,612],"nice":false},"axis":{"values":[0,100,200,300,400,500,600],"labels":false,"minExtent":0,"maxExtent":0}}}},
{"mark":{"type":"line","color":"#1a5cff"},"encoding":{"x":{"field":"F","type":"quantitative","title":null,"axis":{"orient":"top","labels":false,"values":[-0.25,0,0.25,0.5,0.75,1,1.25]}},"y":{"field":"B","type":"quantitative","title":null,"axis":{"orient":"right","labels":false,"values":[0,100,200,300,400,500,600]}}}}]}
]}
]},
{"spacing":7,"hconcat":[
{"data":{"name":"g13"},"title":"SDSS J1204−0021\u00a0\u00a0\u00a0<z> = 4.747","spacing":0,"bounds":"flush","hconcat":[
{"width":115,"height":85,"resolve":{"axis":{"x":"independent","y":"independent"}},"layer":[
{"mark":{"type":"line","interpolate":"step","color":"black","strokeWidth":1.5},"encoding":{"x":{"field":"F","type":"quantitative","title":null,"scale":{"domain":[-0.3,1.3],"nice":false,"zero":false},"axis":{"values":[-0.25,0,0.25,0.5,0.75,1,1.25],"labelExpr":"datum.value==0||datum.value==0.5||datum.value==1?format(datum.value,'.1f'):''","labelOverlap":false}},"y":{"field":"N","type":"quantitative","title":null,"scale":{"domain":[0,319],"nice":false},"axis":{"values":[0,50,100,150,200,250,300],"format":"d","labelOverlap":false}}}},
{"mark":{"type":"line","color":"#ff0000","strokeWidth":1.6,"strokeDash":[1.5,2.5]},"encoding":{"x":{"field":"F","type":"quantitative","axis":null},"y":{"field":"r","type":"quantitative","axis":null}}},
{"mark":{"type":"line","color":"#ff0000"},"encoding":{"x":{"field":"F","type":"quantitative","title":null,"axis":{"orient":"top","labels":false,"values":[-0.25,0,0.25,0.5,0.75,1,1.25]}},"y":{"field":"R","type":"quantitative","title":null,"axis":{"orient":"right","labels":false,"values":[0,50,100,150,200,250,300]}}}}]},
{"width":115,"height":85,"resolve":{"axis":{"x":"independent","y":"independent"}},"layer":[
{"mark":{"type":"line","interpolate":"step","color":"black","strokeWidth":1.5},"encoding":{"x":{"field":"F","type":"quantitative","title":null,"scale":{"domain":[-0.3,1.3],"nice":false,"zero":false},"axis":{"values":[-0.25,0,0.25,0.5,0.75,1,1.25],"labelExpr":"datum.value==0||datum.value==0.5||datum.value==1?format(datum.value,'.1f'):''","labelOverlap":false}},"y":{"field":"N","type":"quantitative","title":null,"scale":{"domain":[0,319],"nice":false},"axis":{"values":[0,50,100,150,200,250,300],"labels":false,"minExtent":0,"maxExtent":0}}}},
{"mark":{"type":"line","color":"#1a5cff","strokeWidth":1.6,"strokeDash":[1.5,2.5]},"encoding":{"x":{"field":"F","type":"quantitative","axis":null},"y":{"field":"b","type":"quantitative","axis":null}}},
{"mark":{"type":"line","color":"#1a5cff"},"encoding":{"x":{"field":"F","type":"quantitative","title":null,"axis":{"orient":"top","labels":false,"values":[-0.25,0,0.25,0.5,0.75,1,1.25]}},"y":{"field":"B","type":"quantitative","title":null,"axis":{"orient":"right","labels":false,"values":[0,50,100,150,200,250,300]}}}}]}
]},
{"data":{"name":"g14"},"title":"SDSS J0231−0728\u00a0\u00a0\u00a0<z> = 4.730","spacing":0,"bounds":"flush","hconcat":[
{"width":115,"height":85,"resolve":{"axis":{"x":"independent","y":"independent"}},"layer":[
{"mark":{"type":"line","interpolate":"step","color":"black","strokeWidth":1.5},"encoding":{"x":{"field":"F","type":"quantitative","title":null,"scale":{"domain":[-0.3,1.3],"nice":false,"zero":false},"axis":{"values":[-0.25,0,0.25,0.5,0.75,1,1.25],"labelExpr":"datum.value==0||datum.value==0.5||datum.value==1?format(datum.value,'.1f'):''","labelOverlap":false}},"y":{"field":"N","type":"quantitative","title":null,"scale":{"domain":[0,312],"nice":false},"axis":{"values":[0,50,100,150,200,250,300],"format":"d","labelOverlap":false}}}},
{"mark":{"type":"line","color":"#ff0000","strokeWidth":1.6,"strokeDash":[1.5,2.5]},"encoding":{"x":{"field":"F","type":"quantitative","axis":null},"y":{"field":"r","type":"quantitative","axis":null}}},
{"mark":{"type":"line","color":"#ff0000"},"encoding":{"x":{"field":"F","type":"quantitative","title":null,"axis":{"orient":"top","labels":false,"values":[-0.25,0,0.25,0.5,0.75,1,1.25]}},"y":{"field":"R","type":"quantitative","title":null,"axis":{"orient":"right","labels":false,"values":[0,50,100,150,200,250,300]}}}}]},
{"width":115,"height":85,"resolve":{"axis":{"x":"independent","y":"independent"}},"layer":[
{"mark":{"type":"line","interpolate":"step","color":"black","strokeWidth":1.5},"encoding":{"x":{"field":"F","type":"quantitative","title":null,"scale":{"domain":[-0.3,1.3],"nice":false,"zero":false},"axis":{"values":[-0.25,0,0.25,0.5,0.75,1,1.25],"labelExpr":"datum.value==0||datum.value==0.5||datum.value==1?format(datum.value,'.1f'):''","labelOverlap":false}},"y":{"field":"N","type":"quantitative","title":null,"scale":{"domain":[0,312],"nice":false},"axis":{"values":[0,50,100,150,200,250,300],"labels":false,"minExtent":0,"maxExtent":0}}}},
{"mark":{"type":"line","color":"#1a5cff"},"encoding":{"x":{"field":"F","type":"quantitative","title":null,"axis":{"orient":"top","labels":false,"values":[-0.25,0,0.25,0.5,0.75,1,1.25]}},"y":{"field":"B","type":"quantitative","title":null,"axis":{"orient":"right","labels":false,"values":[0,50,100,150,200,250,300]}}}}]}
]},
{"data":{"name":"g15"},"title":"SDSS J2225−0014\u00a0\u00a0\u00a0<z> = 4.513","spacing":0,"bounds":"flush","hconcat":[
{"width":115,"height":85,"resolve":{"axis":{"x":"independent","y":"independent"}},"layer":[
{"mark":{"type":"line","interpolate":"step","color":"black","strokeWidth":1.5},"encoding":{"x":{"field":"F","type":"quantitative","title":null,"scale":{"domain":[-0.3,1.3],"nice":false,"zero":false},"axis":{"values":[-0.25,0,0.25,0.5,0.75,1,1.25],"labelExpr":"datum.value==0||datum.value==0.5||datum.value==1?format(datum.value,'.1f'):''","labelOverlap":false}},"y":{"field":"N","type":"quantitative","title":null,"scale":{"domain":[0,285],"nice":false},"axis":{"values":[0,50,100,150,200,250],"format":"d","labelOverlap":false}}}},
{"mark":{"type":"line","color":"#ff0000","strokeWidth":1.6,"strokeDash":[1.5,2.5]},"encoding":{"x":{"field":"F","type":"quantitative","axis":null},"y":{"field":"r","type":"quantitative","axis":null}}},
{"mark":{"type":"line","color":"#ff0000"},"encoding":{"x":{"field":"F","type":"quantitative","title":null,"axis":{"orient":"top","labels":false,"values":[-0.25,0,0.25,0.5,0.75,1,1.25]}},"y":{"field":"R","type":"quantitative","title":null,"axis":{"orient":"right","labels":false,"values":[0,50,100,150,200,250]}}}}]},
{"width":115,"height":85,"resolve":{"axis":{"x":"independent","y":"independent"}},"layer":[
{"mark":{"type":"line","interpolate":"step","color":"black","strokeWidth":1.5},"encoding":{"x":{"field":"F","type":"quantitative","title":null,"scale":{"domain":[-0.3,1.3],"nice":false,"zero":false},"axis":{"values":[-0.25,0,0.25,0.5,0.75,1,1.25],"labelExpr":"datum.value==0||datum.value==0.5||datum.value==1?format(datum.value,'.1f'):''","labelOverlap":false}},"y":{"field":"N","type":"quantitative","title":null,"scale":{"domain":[0,285],"nice":false},"axis":{"values":[0,50,100,150,200,250],"labels":false,"minExtent":0,"maxExtent":0}}}},
{"mark":{"type":"line","color":"#1a5cff"},"encoding":{"x":{"field":"F","type":"quantitative","title":null,"axis":{"orient":"top","labels":false,"values":[-0.25,0,0.25,0.5,0.75,1,1.25]}},"y":{"field":"B","type":"quantitative","title":null,"axis":{"orient":"right","labels":false,"values":[0,50,100,150,200,250]}}}}]}
]}
]},
{"spacing":7,"hconcat":[
{"data":{"name":"g16"},"title":"SDSS J0915+4244\u00a0\u00a0\u00a0<z> = 4.509","spacing":0,"bounds":"flush","hconcat":[
{"width":115,"height":85,"resolve":{"axis":{"x":"independent","y":"independent"}},"layer":[
{"mark":{"type":"line","interpolate":"step","color":"black","strokeWidth":1.5},"encoding":{"x":{"field":"F","type":"quantitative","title":null,"scale":{"domain":[-0.3,1.3],"nice":false,"zero":false},"axis":{"values":[-0.25,0,0.25,0.5,0.75,1,1.25],"labelExpr":"datum.value==0||datum.value==0.5||datum.value==1?format(datum.value,'.1f'):''","labelOverlap":false}},"y":{"field":"N","type":"quantitative","title":null,"scale":{"domain":[0,358],"nice":false},"axis":{"values":[0,100,200,300],"format":"d","labelOverlap":false}}}},
{"mark":{"type":"line","color":"#ff0000","strokeWidth":1.6,"strokeDash":[1.5,2.5]},"encoding":{"x":{"field":"F","type":"quantitative","axis":null},"y":{"field":"r","type":"quantitative","axis":null}}},
{"mark":{"type":"line","color":"#ff0000"},"encoding":{"x":{"field":"F","type":"quantitative","title":null,"axis":{"orient":"top","labels":false,"values":[-0.25,0,0.25,0.5,0.75,1,1.25]}},"y":{"field":"R","type":"quantitative","title":null,"axis":{"orient":"right","labels":false,"values":[0,100,200,300]}}}}]},
{"width":115,"height":85,"resolve":{"axis":{"x":"independent","y":"independent"}},"layer":[
{"mark":{"type":"line","interpolate":"step","color":"black","strokeWidth":1.5},"encoding":{"x":{"field":"F","type":"quantitative","title":null,"scale":{"domain":[-0.3,1.3],"nice":false,"zero":false},"axis":{"values":[-0.25,0,0.25,0.5,0.75,1,1.25],"labelExpr":"datum.value==0||datum.value==0.5||datum.value==1?format(datum.value,'.1f'):''","labelOverlap":false}},"y":{"field":"N","type":"quantitative","title":null,"scale":{"domain":[0,358],"nice":false},"axis":{"values":[0,100,200,300],"labels":false,"minExtent":0,"maxExtent":0}}}},
{"mark":{"type":"line","color":"#1a5cff","strokeWidth":1.6,"strokeDash":[1.5,2.5]},"encoding":{"x":{"field":"F","type":"quantitative","axis":null},"y":{"field":"b","type":"quantitative","axis":null}}},
{"mark":{"type":"line","color":"#1a5cff"},"encoding":{"x":{"field":"F","type":"quantitative","title":null,"axis":{"orient":"top","labels":false,"values":[-0.25,0,0.25,0.5,0.75,1,1.25]}},"y":{"field":"B","type":"quantitative","title":null,"axis":{"orient":"right","labels":false,"values":[0,100,200,300]}}}}]}
]},
{"data":{"name":"g17"},"title":"SDSS J1204−0021\u00a0\u00a0\u00a0<z> = 4.428","spacing":0,"bounds":"flush","hconcat":[
{"width":115,"height":85,"resolve":{"axis":{"x":"independent","y":"independent"}},"layer":[
{"mark":{"type":"line","interpolate":"step","color":"black","strokeWidth":1.5},"encoding":{"x":{"field":"F","type":"quantitative","title":null,"scale":{"domain":[-0.3,1.3],"nice":false,"zero":false},"axis":{"values":[-0.25,0,0.25,0.5,0.75,1,1.25],"labelExpr":"datum.value==0||datum.value==0.5||datum.value==1?format(datum.value,'.1f'):''","labelOverlap":false}},"y":{"field":"N","type":"quantitative","title":null,"scale":{"domain":[0,350],"nice":false},"axis":{"values":[0,50,100,150,200,250,300],"format":"d","labelOverlap":false}}}},
{"mark":{"type":"line","color":"#ff0000","strokeWidth":1.6,"strokeDash":[1.5,2.5]},"encoding":{"x":{"field":"F","type":"quantitative","axis":null},"y":{"field":"r","type":"quantitative","axis":null}}},
{"mark":{"type":"line","color":"#ff0000"},"encoding":{"x":{"field":"F","type":"quantitative","title":null,"axis":{"orient":"top","labels":false,"values":[-0.25,0,0.25,0.5,0.75,1,1.25]}},"y":{"field":"R","type":"quantitative","title":null,"axis":{"orient":"right","labels":false,"values":[0,50,100,150,200,250,300]}}}}]},
{"width":115,"height":85,"resolve":{"axis":{"x":"independent","y":"independent"}},"layer":[
{"mark":{"type":"line","interpolate":"step","color":"black","strokeWidth":1.5},"encoding":{"x":{"field":"F","type":"quantitative","title":null,"scale":{"domain":[-0.3,1.3],"nice":false,"zero":false},"axis":{"values":[-0.25,0,0.25,0.5,0.75,1,1.25],"labelExpr":"datum.value==0||datum.value==0.5||datum.value==1?format(datum.value,'.1f'):''","labelOverlap":false}},"y":{"field":"N","type":"quantitative","title":null,"scale":{"domain":[0,350],"nice":false},"axis":{"values":[0,50,100,150,200,250,300],"labels":false,"minExtent":0,"maxExtent":0}}}},
{"mark":{"type":"line","color":"#1a5cff"},"encoding":{"x":{"field":"F","type":"quantitative","title":null,"axis":{"orient":"top","labels":false,"values":[-0.25,0,0.25,0.5,0.75,1,1.25]}},"y":{"field":"B","type":"quantitative","title":null,"axis":{"orient":"right","labels":false,"values":[0,50,100,150,200,250,300]}}}}]}
]},
{"data":{"name":"g18"},"title":"BRI2237−0607\u00a0\u00a0\u00a0<z> = 4.254","spacing":0,"bounds":"flush","hconcat":[
{"width":115,"height":85,"resolve":{"axis":{"x":"independent","y":"independent"}},"layer":[
{"mark":{"type":"line","interpolate":"step","color":"black","strokeWidth":1.5},"encoding":{"x":{"field":"F","type":"quantitative","title":null,"scale":{"domain":[-0.3,1.3],"nice":false,"zero":false},"axis":{"values":[-0.25,0,0.25,0.5,0.75,1,1.25],"labelExpr":"datum.value==0||datum.value==0.5||datum.value==1?format(datum.value,'.1f'):''","labelOverlap":false}},"y":{"field":"N","type":"quantitative","title":null,"scale":{"domain":[0,284],"nice":false},"axis":{"values":[0,50,100,150,200,250],"format":"d","labelOverlap":false}}}},
{"mark":{"type":"line","color":"#ff0000","strokeWidth":1.6,"strokeDash":[1.5,2.5]},"encoding":{"x":{"field":"F","type":"quantitative","axis":null},"y":{"field":"r","type":"quantitative","axis":null}}},
{"mark":{"type":"line","color":"#ff0000"},"encoding":{"x":{"field":"F","type":"quantitative","title":null,"axis":{"orient":"top","labels":false,"values":[-0.25,0,0.25,0.5,0.75,1,1.25]}},"y":{"field":"R","type":"quantitative","title":null,"axis":{"orient":"right","labels":false,"values":[0,50,100,150,200,250]}}}}]},
{"width":115,"height":85,"resolve":{"axis":{"x":"independent","y":"independent"}},"layer":[
{"mark":{"type":"line","interpolate":"step","color":"black","strokeWidth":1.5},"encoding":{"x":{"field":"F","type":"quantitative","title":null,"scale":{"domain":[-0.3,1.3],"nice":false,"zero":false},"axis":{"values":[-0.25,0,0.25,0.5,0.75,1,1.25],"labelExpr":"datum.value==0||datum.value==0.5||datum.value==1?format(datum.value,'.1f'):''","labelOverlap":false}},"y":{"field":"N","type":"quantitative","title":null,"scale":{"domain":[0,284],"nice":false},"axis":{"values":[0,50,100,150,200,250],"labels":false,"minExtent":0,"maxExtent":0}}}},
{"mark":{"type":"line","color":"#1a5cff","strokeWidth":1.6,"strokeDash":[1.5,2.5]},"encoding":{"x":{"field":"F","type":"quantitative","axis":null},"y":{"field":"b","type":"quantitative","axis":null}}},
{"mark":{"type":"line","color":"#1a5cff"},"encoding":{"x":{"field":"F","type":"quantitative","title":null,"axis":{"orient":"top","labels":false,"values":[-0.25,0,0.25,0.5,0.75,1,1.25]}},"y":{"field":"B","type":"quantitative","title":null,"axis":{"orient":"right","labels":false,"values":[0,50,100,150,200,250]}}}}]}
]}
]}
]}],
"config":{
"view":{"stroke":"black","strokeWidth":1.3},
"line":{"interpolate":"monotone","strokeWidth":1.8},
"axis":{"domain":false,"grid":false,"ticks":true,"tickSize":4,"offset":-4,"tickColor":"black","tickWidth":1,"labelFont":"Liberation Sans","labelFontSize":9.5,"labelColor":"black","labelOverlap":false,"labelFlush":false},
"axisLeft":{"minExtent":26,"maxExtent":26,"labelPadding":3},
"axisRight":{"minExtent":0,"maxExtent":0},
"axisTop":{"minExtent":0,"maxExtent":0},
"axisBottom":{"labelPadding":4},
"title":{"font":"Liberation Sans","fontSize":12.5,"fontWeight":"normal","color":"black","offset":3,"anchor":"middle"}
}
}
